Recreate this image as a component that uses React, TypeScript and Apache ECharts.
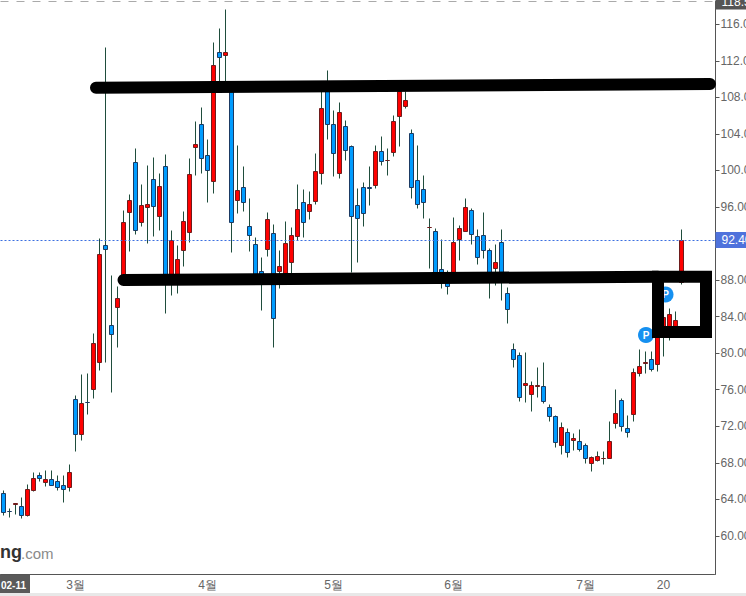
import React, { useEffect, useRef } from "react";
import * as echarts from "echarts";

const opens = [
  64.66, 62.67, 63.47, 63.24, 62.21, 64.99, 66.63, 65.82, 66.2, 65.98, 65.54, 65.28,
  74.96, 71.08, 74.65, 76.05, 79.01, 91.82, 82.98, 84.99, 88.24, 95.39, 100.91, 94.34,
  95.98, 99.05, 95.0, 100.47, 88.02, 88.02, 91.27, 93.24, 102.51, 105.07, 101.67, 98.83,
  112.95, 112.62, 109.3, 96.7, 98.17, 93.9, 91.93, 88.9, 91.34, 93.13, 88.93, 88.35,
  89.96, 92.81, 96.53, 95.5, 96.64, 99.7, 108.61, 105.07, 99.7, 104.85, 102.66, 96.2,
  98.17, 98.11, 98.35, 102.11, 101.06, 102.0, 105.95, 107.04, 104.08, 98.94, 97.95, 93.77,
  93.35, 89.11, 88.46, 88.02, 92.4, 93.35, 95.65, 92.81, 92.91, 91.27, 89.3, 92.15,
  86.56, 80.43, 79.78, 76.49, 75.5, 76.39, 76.38, 74.08, 73.1, 69.92, 71.34, 70.47,
  70.36, 69.92, 67.95, 68.28, 68.43, 68.5, 72.33, 74.85, 71.78, 73.31, 77.8, 78.91,
  79.34, 78.79, 81.89, 82.91, 82.91, 87.69,
];
const closes = [
  62.58, 62.63, 63.51, 62.21, 65.1, 66.31, 66.26, 66.2, 65.5, 65.28, 65.06, 66.96,
  71.08, 74.52, 74.61, 81.01, 90.83, 91.34, 82.03, 86.02, 94.34, 96.75, 93.46, 96.2,
  96.31, 96.09, 98.28, 87.58, 92.29, 90.29, 94.45, 99.59, 102.88, 101.35, 99.99, 111.53,
  112.36, 112.95, 94.34, 97.84, 96.53, 92.91, 88.57, 88.24, 94.67, 83.83, 89.52, 92.04,
  92.91, 95.76, 94.34, 96.31, 99.92, 106.82, 105.07, 101.89, 106.38, 102.22, 95.0, 94.78,
  95.32, 98.07, 102.11, 101.02, 101.1, 105.4, 108.61, 107.7, 98.17, 96.31, 96.53, 93.81,
  88.57, 88.02, 87.29, 92.15, 93.68, 95.98, 93.02, 90.51, 91.27, 88.57, 89.96, 87.69,
  84.81, 79.34, 75.18, 76.71, 76.49, 76.43, 74.74, 73.1, 70.25, 71.89, 69.15, 70.69,
  69.48, 68.5, 68.61, 68.71, 68.47, 70.36, 73.42, 72.0, 71.34, 77.91, 78.57, 78.95,
  78.2, 82.54, 83.86, 84.26, 83.61, 92.29,
];
const lows = [
  62.21, 61.99, 62.29, 61.88, 62.07, 64.81, 65.9, 65.35, 65.5, 65.02, 63.6, 64.81,
  69.22, 70.42, 73.27, 75.02, 78.06, 78.93, 75.68, 80.61, 87.36, 91.12, 92.98, 93.86,
  91.99, 92.76, 93.42, 84.33, 86.3, 86.52, 89.44, 92.07, 99.44, 99.66, 96.48, 97.47,
  109.37, 109.37, 90.98, 95.28, 95.5, 91.12, 87.58, 84.63, 90.54, 80.61, 87.07, 87.58,
  88.57, 92.37, 92.65, 94.59, 96.27, 98.46, 103.38, 99.33, 99.11, 101.08, 88.79, 89.91,
  93.86, 96.16, 98.02, 100.5, 99.41, 101.49, 102.58, 106.78, 96.92, 95.83, 94.73, 89.3,
  87.8, 87.07, 86.41, 87.69, 90.1, 93.35, 91.89, 89.7, 90.35, 85.97, 87.4, 85.75,
  83.2, 78.42, 74.69, 74.58, 73.6, 75.1, 74.47, 72.5, 69.7, 68.89, 68.56, 69.33,
  69.22, 67.9, 67.03, 68.12, 67.8, 68.5, 71.74, 71.41, 70.75, 72.5, 77.43, 77.76,
  77.98, 77.98, 79.62, 81.37, 82.33, 87.55,
];
const highs = [
  64.92, 63.02, 63.57, 64.15, 65.57, 66.89, 66.96, 67.21, 67.11, 66.56, 66.63, 67.76,
  75.32, 77.62, 77.73, 82.11, 92.59, 113.42, 88.46, 87.25, 95.65, 97.33, 102.44, 98.42,
  100.5, 101.46, 99.63, 101.71, 93.39, 91.74, 95.47, 101.27, 105.32, 106.85, 103.35, 113.97,
  115.5, 117.58, 109.5, 102.69, 100.39, 96.89, 92.62, 90.43, 95.43, 94.04, 91.2, 94.45,
  93.71, 98.42, 97.87, 97.66, 101.82, 108.61, 110.91, 106.6, 107.4, 105.43, 102.69, 97.98,
  98.64, 100.39, 102.69, 103.68, 102.36, 105.98, 109.37, 108.61, 104.44, 102.69, 99.41, 94.7,
  93.68, 92.48, 89.01, 94.81, 93.93, 96.97, 95.87, 93.57, 95.43, 91.49, 91.85, 93.57,
  87.22, 81.01, 80.1, 80.03, 76.93, 78.38, 78.93, 74.41, 73.13, 72.44, 71.78, 71.16,
  71.59, 70.14, 68.71, 69.19, 69.19, 72.47, 76.05, 75.07, 73.13, 78.27, 80.43, 80.14,
  80.21, 83.09, 86.27, 84.92, 84.52, 93.49,
];

const bandCount = 119;
const xTickLabels: Record<number, string> = { 12: "3월", 34: "4월", 55: "5월", 75: "6월", 97: "7월", 110: "20" };
const yTicks = [60, 64, 68, 72, 76, 80, 84, 88, 96, 100, 104, 108, 112, 116];
const lastPrice = 92.4;
const topPrice = 118.5;

const categories = Array.from({ length: bandCount }, (_, i) => xTickLabels[i] ?? "");
const candleData = opens.map((o, i) => [i, o, closes[i], lows[i], highs[i]]);

const FONT = "'Liberation Sans', Arial, sans-serif";
const RED = "#ff0000";
const BLUE = "#009cff";
const RED_EDGE = "#6e1c1c";
const BLUE_EDGE = "#1b3a63";
const WICK = "#1f4d3c";
const BLACK = "#000000";

function renderCandle(_: unknown, api: any) {
  const idx = api.value(0);
  const o = api.value(1);
  const c = api.value(2);
  const x = Math.round(api.coord([idx, o])[0] - 0.5) + 0.5;
  const snap = (v: number) => Math.round(api.coord([idx, v])[1] - 0.5) + 0.5;
  const up = c >= o;
  const yTop = snap(Math.max(o, c));
  const yBot = snap(Math.min(o, c));
  return {
    type: "group",
    children: [
      {
        type: "line",
        shape: { x1: x, y1: snap(api.value(4)), x2: x, y2: snap(api.value(3)) },
        style: { stroke: WICK, lineWidth: 1 },
      },
      {
        type: "rect",
        shape: { x: x - 2, y: yTop, width: 4, height: yBot - yTop },
        style: { fill: up ? RED : BLUE, stroke: up ? RED_EDGE : BLUE_EDGE, lineWidth: 1 },
      },
    ],
  };
}

function priceLine(value: number, color: string, label: string, dash: number[], bg: string) {
  return {
    yAxis: value,
    lineStyle: { color, width: 1, type: dash },
    label: {
      show: true,
      position: "end",
      distance: 1,
      formatter: label,
      color: "#ffffff",
      fontFamily: FONT,
      fontSize: 12,
      backgroundColor: bg,
      padding: [2, 12, 2, 6],
    },
  };
}

export default function App() {
  const ref = useRef<HTMLDivElement>(null);
  useEffect(() => {
    document.body.style.margin = "0";
    const chart = echarts.init(ref.current!, undefined, { renderer: "svg" });
    const overlayLine = { lineWidth: 12, stroke: BLACK, lineCap: "round" as const };
    chart.setOption({
      animation: false,
      backgroundColor: "#ffffff",
      grid: { left: 0.5, top: 1.5, width: 714, height: 573, containLabel: false, outerBoundsMode: "none" },
      xAxis: {
        type: "category",
        data: categories,
        boundaryGap: true,
        axisLine: { lineStyle: { color: "#555555", width: 1 } },
        axisTick: {
          alignWithLabel: true,
          length: 4,
          lineStyle: { color: "#555555" },
          interval: (_: number, v: string) => v !== "",
        },
        axisLabel: {
          color: "#666666",
          fontFamily: FONT,
          fontSize: 12,
          margin: 4,
          interval: (_: number, v: string) => v !== "",
        },
        splitLine: { show: false },
      },
      yAxis: {
        type: "value",
        position: "right",
        offset: 1,
        min: 55.77,
        max: 118.5,
        axisLine: { show: true, lineStyle: { color: "#555555", width: 1 } },
        axisTick: { show: true, length: 4, lineStyle: { color: "#555555" }, customValues: yTicks },
        axisLabel: {
          color: "#666666",
          fontFamily: FONT,
          fontSize: 12,
          margin: 5,
          customValues: yTicks,
          formatter: (v: number) => v.toFixed(2),
        },
        splitLine: { show: false },
      },
      series: [
        {
          type: "custom",
          renderItem: renderCandle,
          data: candleData,
          encode: { x: 0, y: [1, 2, 3, 4] },
          clip: false,
          markLine: {
            silent: true,
            symbol: "none",
            animation: false,
            data: [
              priceLine(lastPrice, "#3b6fe0", lastPrice.toFixed(2), [2, 2], "#4f72dc"),
              priceLine(topPrice, "#aaaaaa", topPrice.toFixed(2), [8, 8], "#555555"),
            ],
          },
        },
      ],
      graphic: [
        { type: "circle", z: 10, shape: { cx: 646, cy: 335, r: 8 }, style: { fill: "#1590f0" } },
        {
          type: "text", z: 11, x: 646, y: 335,
          style: { text: "P", fill: "#ffffff", font: `bold 10px ${FONT}`, align: "center", verticalAlign: "middle" },
        },
        { type: "circle", z: 10, shape: { cx: 665.5, cy: 294.5, r: 8 }, style: { fill: "#1590f0" } },
        {
          type: "text", z: 11, x: 665.5, y: 294.5,
          style: { text: "P", fill: "#ffffff", font: `bold 10px ${FONT}`, align: "center", verticalAlign: "middle" },
        },
        { type: "line", z: 20, shape: { x1: 96, y1: 87.7, x2: 710, y2: 84 }, style: overlayLine },
        { type: "line", z: 20, shape: { x1: 123.5, y1: 280, x2: 658, y2: 276.7 }, style: overlayLine },
        {
          type: "rect", z: 20,
          shape: { x: 658, y: 276.7, width: 48, height: 55.3 },
          style: { fill: "none", stroke: BLACK, lineWidth: 12 },
        },
        {
          type: "text", z: 12, x: 0, y: 552,
          style: { text: "ng", fill: "#333333", font: `bold 18px ${FONT}`, verticalAlign: "middle", align: "left" },
        },
        {
          type: "text", z: 12, x: 21, y: 553,
          style: { text: ".com", fill: "#8a8a8a", font: `15px ${FONT}`, verticalAlign: "middle", align: "left" },
        },
        { type: "rect", z: 12, shape: { x: 0, y: 593, width: 746, height: 3 }, style: { fill: "#e8e8e8" } },
        { type: "rect", z: 12, shape: { x: 0, y: 575, width: 30, height: 18 }, style: { fill: "#5a5a5a" } },
        {
          type: "text", z: 13, x: 1, y: 585,
          style: { text: "02-11", fill: "#ffffff", font: `bold 10px ${FONT}`, align: "left", verticalAlign: "middle" },
        },
      ],
    });
    return () => chart.dispose();
  }, []);
  return <div ref={ref} style={{ width: 746, height: 596, overflow: "hidden" }} />;
}
